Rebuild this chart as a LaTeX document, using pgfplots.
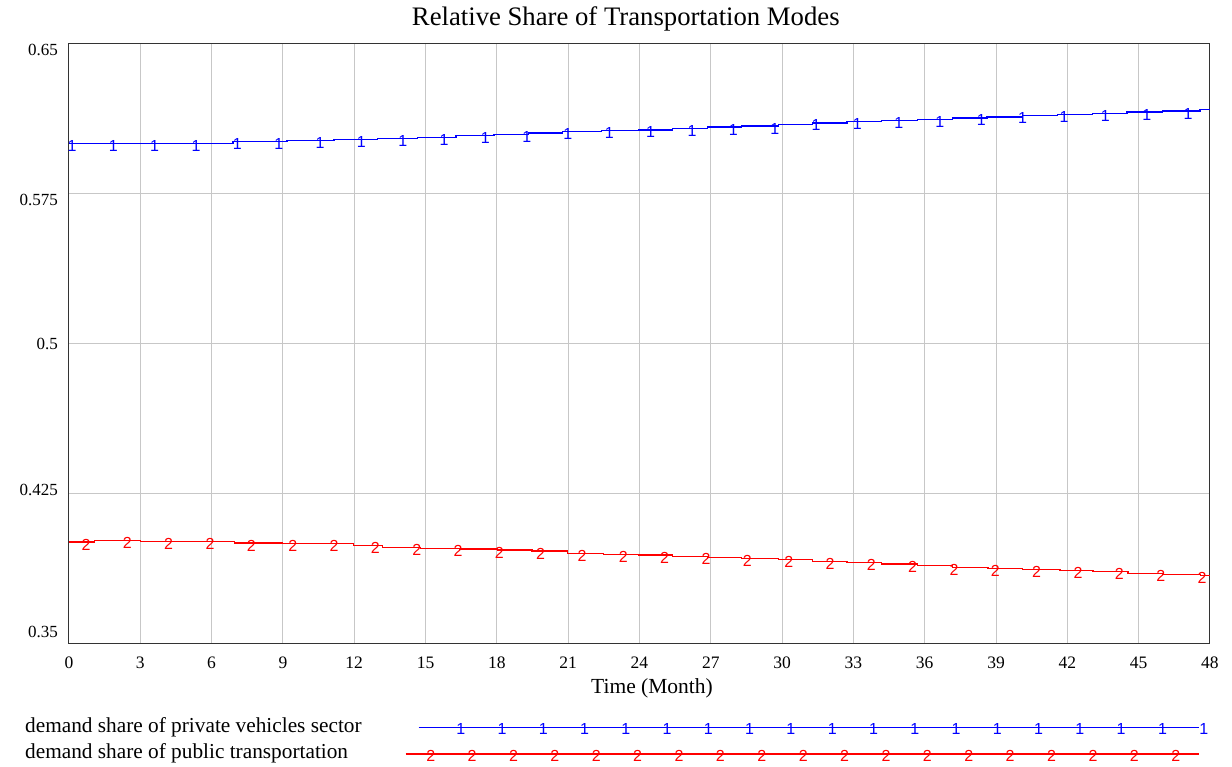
\documentclass[border=0pt]{standalone}
\usepackage{fontspec}
\setmainfont{Liberation Serif}
\newfontfamily\markfont{Liberation Sans}
\usepackage{pgfplots}
\usepackage{pgfplotstable}
\pgfplotsset{compat=1.18}

\pgfplotstableread{
t v
0 0.60027
6.90 0.60107
9.17 0.60157
11.15 0.60207
12.96 0.60277
14.68 0.60327
16.28 0.60407
17.88 0.60478
19.33 0.60543
20.78 0.60608
22.42 0.60658
23.94 0.60693
25.37 0.60778
26.88 0.60843
28.31 0.60893
29.83 0.60978
31.26 0.61044
32.73 0.61109
34.20 0.61179
35.68 0.61229
37.15 0.61294
38.62 0.61344
40.10 0.61400
41.57 0.61459
43.04 0.61509
44.51 0.61594
46.02 0.61644
47.58 0.61710
48 0.61710
}\privatetab

\pgfplotstableread{
t v
0.126 0.60027
1.864 0.60027
3.605 0.60027
5.343 0.60027
7.080 0.60107
8.822 0.60107
10.56 0.60157
12.30 0.60207
14.04 0.60277
15.78 0.60327
17.51 0.60407
19.26 0.60478
20.99 0.60608
22.73 0.60658
24.47 0.60693
26.21 0.60778
27.95 0.60843
29.69 0.60893
31.43 0.61044
33.16 0.61109
34.91 0.61179
36.64 0.61229
38.38 0.61294
40.12 0.61400
41.86 0.61459
43.60 0.61509
45.34 0.61594
47.08 0.61644
}\privatemarks

\pgfplotstableread{
t v
0 0.40059
1.09 0.40124
2.99 0.40074
6.98 0.40009
8.96 0.39974
11.95 0.39891
13.17 0.39793
14.77 0.39743
16.41 0.39708
18.01 0.39658
19.48 0.39608
20.99 0.39493
22.47 0.39443
23.94 0.39408
25.37 0.39353
26.88 0.39293
28.31 0.39228
29.83 0.39163
31.26 0.39098
32.73 0.39032
34.20 0.38957
35.68 0.38872
37.15 0.38792
38.66 0.38742
40.13 0.38692
41.69 0.38622
43.08 0.38572
44.55 0.38492
46.02 0.38442
47.60 0.38372
48 0.38372
}\publictab

\pgfplotstableread{
t v
0.715 0.40059
2.453 0.40124
4.194 0.40074
5.932 0.40074
7.669 0.40009
9.411 0.39974
11.15 0.39974
12.89 0.39891
14.63 0.39793
16.37 0.39743
18.10 0.39658
19.84 0.39608
21.58 0.39493
23.32 0.39443
25.06 0.39408
26.80 0.39353
28.54 0.39238
30.28 0.39163
32.02 0.39098
33.75 0.39032
35.49 0.38957
37.23 0.38792
38.97 0.38742
40.71 0.38692
42.45 0.38622
44.19 0.38572
45.93 0.38492
47.67 0.38372
}\publicmarks

\begin{document}
\begin{tikzpicture}[x=1pt,y=1pt]
\useasboundingbox (0,0) rectangle (1232,766);
\fill[white] (0,0) rectangle (1232,766);
\begin{axis}[
  at={(69pt,123pt)}, anchor=south west,
  scale only axis, width=1141pt, height=599pt,
  xmin=0, xmax=48, ymin=0.35, ymax=0.65,
  xtick={0,3,...,48},
  ytick={0.35,0.425,0.5,0.575,0.65},
  yticklabels={,,,,},
  extra y ticks={0.3555,0.4266,0.5,0.5719,0.6470},
  extra y tick labels={0.35,0.425,0.5,0.575,0.65},
  extra y tick style={grid=none},
  grid=major,
  major grid style={color=black!22, line width=1pt},
  tick style={draw=none},
  axis line style={black!80, line width=1pt},
  /pgf/number format/assume math mode=true,
  xticklabel style={font=\fontsize{17.5}{20}\selectfont, anchor=base, yshift=-25pt},
  yticklabel style={font=\fontsize{17}{20}\selectfont, anchor=east, inner sep=0pt, xshift=-11pt},
  title={Relative Share of Transportation Modes},
  title style={font=\fontsize{26.7}{30}\selectfont, at={(axis description cs:0.488,1)}, anchor=base, yshift=12pt},
  xlabel={Time (Month)},
  xlabel style={font=\fontsize{21.5}{24}\selectfont, at={(axis description cs:0.511,0)}, anchor=base, yshift=-50pt},
  legend plot pos=right,
  legend style={at={(axis description cs:-0.0386,-0.124)}, anchor=north west, draw=none, fill=none,
    inner sep=0pt, row sep=4pt, column sep=0pt,
    font=\fontsize{21.3}{24}\selectfont,
    nodes={inner sep=0pt, text height=15pt, text depth=5pt}},
  legend cell align=left,
  clip=false,
]
\addplot[only marks, forget plot, draw=none, mark=text, text mark={1}, text mark as node=true,
  text mark style={text=blue, font=\markfont\fontsize{16}{16}\selectfont, inner sep=0pt, yshift=-2.5pt}]
  table[x=t,y=v] {\privatemarks};
\addplot[only marks, forget plot, draw=none, mark=text, text mark={2}, text mark as node=true,
  text mark style={text=red, font=\markfont\fontsize{16}{16}\selectfont, inner sep=0pt, yshift=-2.5pt}]
  table[x=t,y=v] {\publicmarks};
\addplot[draw=blue, color=blue, mark=none, line width=1.1pt, const plot,
  legend image code/.code={
    \path (0pt,0pt);
    \draw[blue, line width=1.1pt] (13pt,0pt) -- (793pt,0pt);
    \foreach \i in {0,...,18} {\node[text=blue, font=\markfont\fontsize{16}{16}\selectfont, inner sep=0pt] at (50pt+\i*41.28pt, -2.5pt) {1};}
  }] table[x=t,y=v] {\privatetab};
\addlegendentry{\makebox[380pt][l]{demand share of private vehicles sector}}
\addplot[draw=red, color=red, mark=none, line width=1.1pt, const plot,
  legend image code/.code={
    \path (0pt,0pt);
    \draw[red, line width=1.1pt] (0pt,0pt) -- (793pt,0pt);
    \foreach \i in {0,...,18} {\node[text=red, font=\markfont\fontsize{16}{16}\selectfont, inner sep=0pt] at (20pt+\i*41.39pt, -2.5pt) {2};}
  }] table[x=t,y=v] {\publictab};
\addlegendentry{\makebox[380pt][l]{demand share of public transportation}}
\end{axis}
\end{tikzpicture}
\end{document}
